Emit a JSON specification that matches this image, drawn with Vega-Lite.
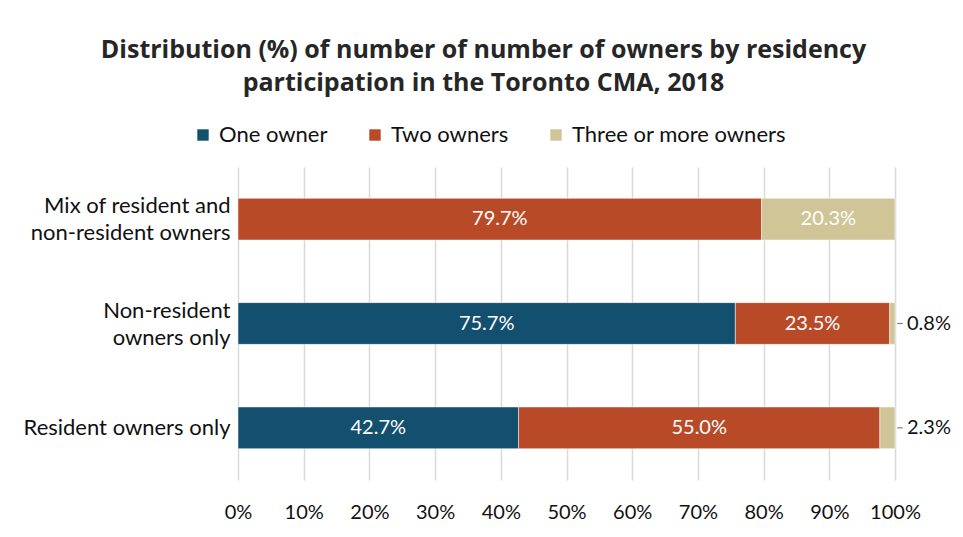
{
  "$schema": "https://vega.github.io/schema/vega-lite/v6.json",
  "autosize": "none",
  "width": 657,
  "height": 313,
  "padding": {"left": 238, "top": 167, "right": 68, "bottom": 57},
  "background": "white",
  "config": {
    "font": "Lato",
    "view": {"stroke": null},
    "axis": {"labelFont": "Lato", "labelColor": "#111111", "labelFontSize": 20}
  },
  "title": {
    "text": ["Distribution (%) of number of number of owners by residency", "participation in the Toronto CMA, 2018"],
    "font": "Open Sans",
    "fontSize": 25,
    "fontWeight": "bold",
    "color": "#262626",
    "lineHeight": 33,
    "anchor": "middle",
    "frame": "group",
    "dx": -83,
    "offset": 28
  },
  "data": {
    "values": [
      {"residency": "Mix of resident and non-resident owners", "owners": "One owner", "k": 1, "value": 0},
      {"residency": "Mix of resident and non-resident owners", "owners": "Two owners", "k": 2, "value": 79.7},
      {"residency": "Mix of resident and non-resident owners", "owners": "Three or more owners", "k": 3, "value": 20.3},
      {"residency": "Non-resident owners only", "owners": "One owner", "k": 1, "value": 75.7},
      {"residency": "Non-resident owners only", "owners": "Two owners", "k": 2, "value": 23.5},
      {"residency": "Non-resident owners only", "owners": "Three or more owners", "k": 3, "value": 0.8},
      {"residency": "Resident owners only", "owners": "One owner", "k": 1, "value": 42.7},
      {"residency": "Resident owners only", "owners": "Two owners", "k": 2, "value": 55.0},
      {"residency": "Resident owners only", "owners": "Three or more owners", "k": 3, "value": 2.3}
    ]
  },
  "transform": [
    {"stack": "value", "groupby": ["residency"], "sort": [{"field": "k", "order": "ascending"}], "as": ["x0", "x1"]},
    {"calculate": "(datum.x0 + datum.x1) / 2", "as": "mid"},
    {"calculate": "format(datum.value, '.1f') + '%'", "as": "label"}
  ],
  "encoding": {
    "y": {
      "field": "residency",
      "type": "nominal",
      "sort": ["Mix of resident and non-resident owners", "Non-resident owners only", "Resident owners only"],
      "scale": {"paddingInner": 0.6, "paddingOuter": 0.3},
      "axis": {
        "title": null,
        "domain": false,
        "ticks": false,
        "labelPadding": 8,
        "labelFontSize": 22,
        "labelLimit": 300,
        "labelLineHeight": 27,
        "labelOffset": {"condition": {"test": "datum.value == 'Resident owners only'", "value": 0}, "value": -13},
        "labelExpr": "datum.value == 'Mix of resident and non-resident owners' ? ['Mix of resident and', 'non-resident owners '] : datum.value == 'Non-resident owners only' ? ['Non-resident ', 'owners only'] : datum.value"
      }
    }
  },
  "layer": [
    {
      "mark": {"type": "bar", "stroke": "white", "strokeWidth": 0.5},
      "encoding": {
        "x": {
          "field": "x0",
          "type": "quantitative",
          "scale": {"domain": [0, 100], "nice": false},
          "axis": {
            "title": null,
            "values": [0, 10, 20, 30, 40, 50, 60, 70, 80, 90, 100],
            "labelExpr": "datum.value + '%'",
            "labelOverlap": false,
            "labelFlush": false,
            "domain": false,
            "ticks": false,
            "grid": true,
            "gridColor": "#d9d9d9",
            "gridWidth": 1.5,
            "labelPadding": 22
          }
        },
        "x2": {"field": "x1"},
        "color": {
          "field": "owners",
          "type": "nominal",
          "scale": {
            "domain": ["One owner", "Two owners", "Three or more owners"],
            "range": ["#134f6e", "#b94a27", "#d0c597"]
          },
          "legend": {
            "title": null,
            "orient": "none",
            "direction": "horizontal",
            "legendX": -46,
            "legendY": -43,
            "symbolType": "square",
            "symbolSize": 130,
            "symbolStrokeWidth": 0,
            "labelFont": "Lato",
            "labelFontSize": 22,
            "labelLimit": 400,
            "labelColor": "#111111",
            "labelOffset": 5,
            "columnPadding": 36
          }
        }
      }
    },
    {
      "transform": [{"filter": "datum.value > 5"}],
      "mark": {"type": "text", "color": "white", "fontSize": 20, "font": "Lato", "align": "center", "baseline": "middle"},
      "encoding": {
        "x": {"field": "mid", "type": "quantitative"},
        "text": {"field": "label", "type": "nominal"}
      }
    },
    {
      "transform": [{"filter": "datum.value > 0 && datum.value <= 5"}],
      "mark": {"type": "point", "shape": "stroke", "size": 30, "stroke": "#7f7f7f", "strokeWidth": 1.2, "xOffset": 5, "opacity": 1},
      "encoding": {
        "x": {"field": "x1", "type": "quantitative"}
      }
    },
    {
      "transform": [{"filter": "datum.value > 0 && datum.value <= 5"}],
      "mark": {"type": "text", "color": "#111111", "fontSize": 20, "font": "Lato", "align": "left", "baseline": "middle", "dx": 12},
      "encoding": {
        "x": {"field": "x1", "type": "quantitative"},
        "text": {"field": "label", "type": "nominal"}
      }
    }
  ]
}
